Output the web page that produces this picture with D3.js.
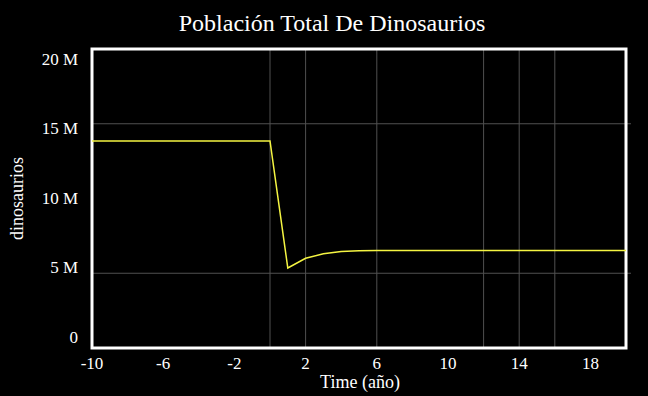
<!DOCTYPE html>
<html>
<head>
<meta charset="utf-8">
<script src="https://cdn.jsdelivr.net/npm/d3@7"></script>
<style>
  html, body { margin: 0; padding: 0; background: #000; }
  svg { display: block; }
  text { font-family: "Liberation Serif", "DejaVu Serif", serif; fill: #fff; }
</style>
</head>
<body>
<svg width="648" height="396"></svg>
<script>
// data
const times = [-10, 0, 1, 2, 3, 4, 5, 6, 20];
const dinos = [13.85e6, 13.85e6, 5.35e6, 6.0e6, 6.3e6, 6.45e6, 6.5e6, 6.53e6, 6.53e6];
const xTicks = [-10, -6, -2, 2, 6, 10, 14, 18];
const yTicks = [0, 5e6, 10e6, 15e6, 20e6];
const xGrid = [0, 2, 6, 12, 14, 16];
const yGrid = [5e6, 15e6];

const width = 648, height = 396;
const margin = { top: 49, right: 22, bottom: 48, left: 92 };

const svg = d3.select('svg');

const x = d3.scaleLinear()
  .domain([-10, 20])
  .range([margin.left, width - margin.right]);

const y = d3.scaleLinear()
  .domain([0, 20e6])
  .range([height - margin.bottom, margin.top]);

// vensim puts the value labels slightly inside the range
const yLab = d3.scaleLinear()
  .domain([0, 20e6])
  .range([y(0) - 11, y(20e6) + 10]);

const fmt = function (d) {
  return d === 0 ? '0' : (d / 1e6) + ' M';
};

// grid
svg.append('g')
  .selectAll('line')
  .data(xGrid)
  .enter().append('line')
  .attr('x1', d => x(d)).attr('x2', d => x(d))
  .attr('y1', y(20e6)).attr('y2', y(0))
  .attr('stroke', '#505050')
  .attr('stroke-width', 1);

svg.append('g')
  .selectAll('line')
  .data(yGrid)
  .enter().append('line')
  .attr('x1', x(-10) - 1).attr('x2', x(20) + 5)
  .attr('y1', d => y(d)).attr('y2', d => y(d))
  .attr('stroke', '#505050')
  .attr('stroke-width', 1);

// frame
svg.append('rect')
  .attr('x', x(-10))
  .attr('y', y(20e6))
  .attr('width', x(20) - x(-10))
  .attr('height', y(0) - y(20e6))
  .attr('fill', 'none')
  .attr('stroke', '#fff')
  .attr('stroke-width', 3);

// series
const line = d3.line()
  .x((d, i) => x(times[i]))
  .y(d => y(d));

svg.append('path')
  .datum(dinos)
  .attr('d', line)
  .attr('fill', 'none')
  .attr('stroke', '#f5f542')
  .attr('stroke-width', 1.5);

// tick labels
svg.append('g')
  .selectAll('text')
  .data(xTicks)
  .enter().append('text')
  .attr('x', d => x(d))
  .attr('y', y(0) + 21)
  .attr('text-anchor', 'middle')
  .style('font-size', '17px')
  .text(d => d);

svg.append('g')
  .selectAll('text')
  .data(yTicks)
  .enter().append('text')
  .attr('x', x(-10) - 14)
  .attr('y', d => yLab(d))
  .attr('dy', '0.35em')
  .attr('text-anchor', 'end')
  .style('font-size', '17px')
  .text(fmt);

// titles
svg.append('text')
  .attr('x', 332)
  .attr('y', 31)
  .attr('text-anchor', 'middle')
  .style('font-size', '24px')
  .text('Población Total De Dinosaurios');

svg.append('text')
  .attr('x', (x(-10) + x(20)) / 2 + 1)
  .attr('y', 388)
  .attr('text-anchor', 'middle')
  .style('font-size', '18px')
  .text('Time (año)');

svg.append('text')
  .attr('transform', 'translate(23,' + ((y(0) + y(20e6)) / 2) + ') rotate(-90)')
  .attr('text-anchor', 'middle')
  .style('font-size', '18px')
  .text('dinosaurios');
</script>
</body>
</html>
